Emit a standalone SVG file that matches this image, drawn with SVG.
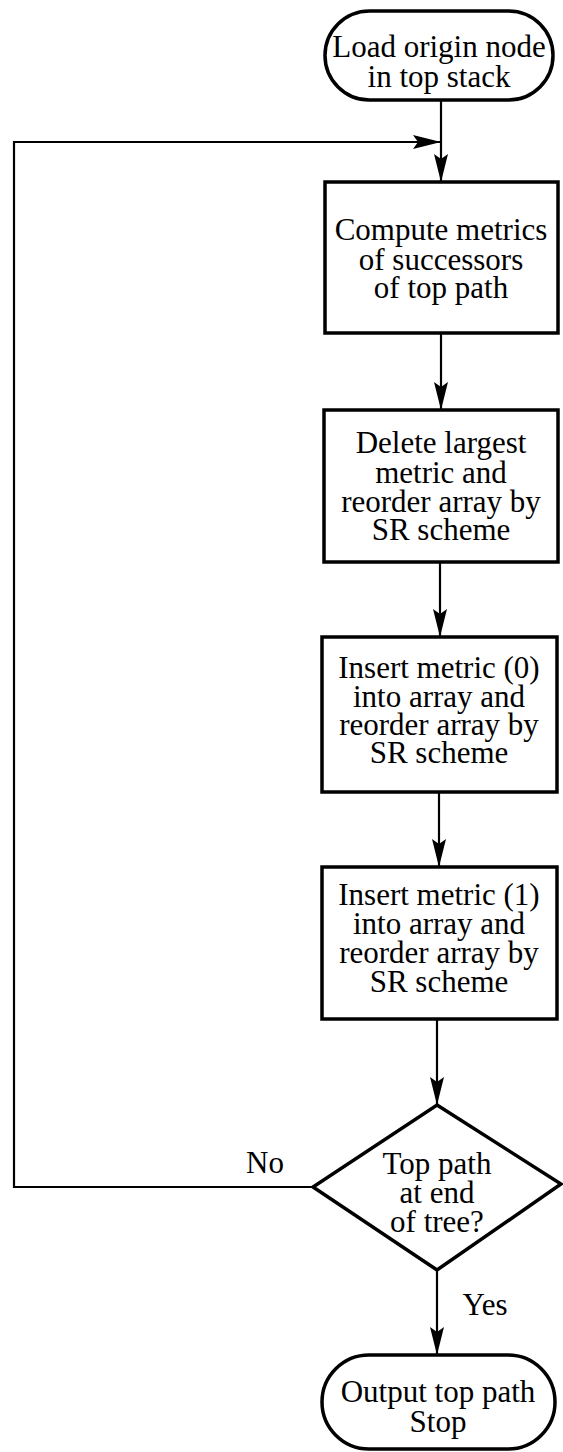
<svg xmlns="http://www.w3.org/2000/svg" width="563" height="1452" viewBox="0 0 563 1452">
<style>
.n{fill:#fff;stroke:#000;stroke-width:3.5}
.t{font-family:"Liberation Serif","Times New Roman",serif;font-size:31px;fill:#000;text-anchor:middle}
.c{fill:none;stroke:#000;stroke-width:2.2}
</style>
<defs>
<marker id="ah" markerUnits="userSpaceOnUse" markerWidth="30" markerHeight="16" refX="28" refY="8" orient="auto">
<path d="M0,1 L28,8 L0,15 L5,8 z" fill="#000"/>
</marker>
</defs>
<rect width="563" height="1452" fill="#fff"/>
<g id="connectors">
<line class="c" x1="441" y1="101" x2="441" y2="182" marker-end="url(#ah)"/>
<polyline class="c" points="313,1187 14,1187 14,142 441,142" marker-end="url(#ah)"/>
<line class="c" x1="441" y1="333" x2="441" y2="410" marker-end="url(#ah)"/>
<line class="c" x1="440" y1="562" x2="440" y2="637" marker-end="url(#ah)"/>
<line class="c" x1="439" y1="792" x2="439" y2="867" marker-end="url(#ah)"/>
<line class="c" x1="437" y1="1019" x2="437" y2="1105" marker-end="url(#ah)"/>
<line class="c" x1="437" y1="1270" x2="437" y2="1355" marker-end="url(#ah)"/>
<text class="t" x="265" y="1173">No</text>
<text class="t" x="485" y="1315">Yes</text>
</g>
<g id="start">
<rect class="n" x="325" y="11" width="228" height="89" rx="44.5"/>
<text class="t" x="439" y="57">Load origin node</text>
<text class="t" x="439" y="87">in top stack</text>
</g>
<g id="compute">
<rect class="n" x="325" y="182" width="233" height="151"/>
<text class="t" x="441" y="240">Compute metrics</text>
<text class="t" x="441" y="270">of successors</text>
<text class="t" x="441" y="298">of top path</text>
</g>
<g id="delete">
<rect class="n" x="324" y="410" width="234" height="152"/>
<text class="t" x="441" y="453">Delete largest</text>
<text class="t" x="441" y="483">metric and</text>
<text class="t" x="441" y="512">reorder array by</text>
<text class="t" x="441" y="540">SR scheme</text>
</g>
<g id="insert0">
<rect class="n" x="322" y="637" width="235" height="155"/>
<text class="t" x="439" y="678">Insert metric (0)</text>
<text class="t" x="439" y="707">into array and</text>
<text class="t" x="439" y="735">reorder array by</text>
<text class="t" x="439" y="763">SR scheme</text>
</g>
<g id="insert1">
<rect class="n" x="322" y="867" width="235" height="152"/>
<text class="t" x="439" y="905">Insert metric (1)</text>
<text class="t" x="439" y="934">into array and</text>
<text class="t" x="439" y="963">reorder array by</text>
<text class="t" x="439" y="992">SR scheme</text>
</g>
<g id="decision">
<polygon class="n" points="437,1105 561,1184 437,1270 313,1187"/>
<text class="t" x="437" y="1174">Top path</text>
<text class="t" x="437" y="1203">at end</text>
<text class="t" x="437" y="1232">of tree?</text>
</g>
<g id="stop">
<rect class="n" x="322" y="1355" width="233" height="94" rx="47"/>
<text class="t" x="438" y="1402">Output top path</text>
<text class="t" x="438" y="1432">Stop</text>
</g>
</svg>
